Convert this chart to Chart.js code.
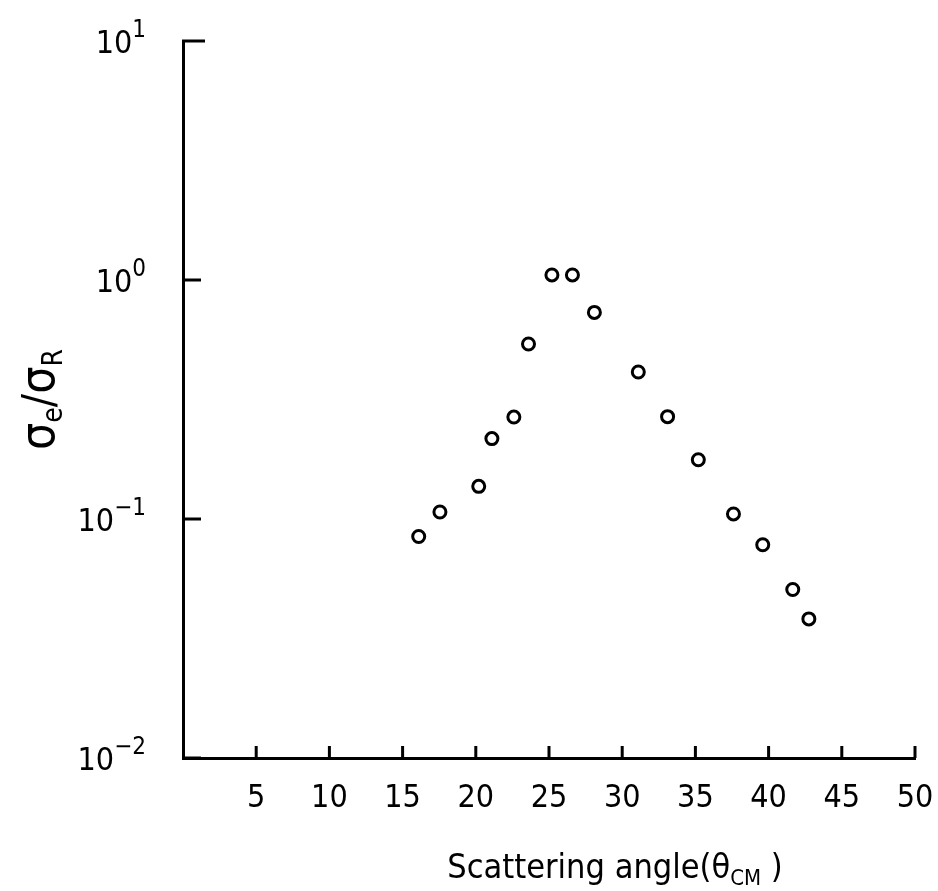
<!DOCTYPE html>
<html>
<head>
<meta charset="utf-8">
<script src="https://cdn.jsdelivr.net/npm/chart.js@4"></script>
<style>
  html, body { margin: 0; padding: 0; background: #fff; }
  #wrap { width: 938px; height: 891px; }
</style>
</head>
<body>
<div id="wrap"><canvas id="scatChart"></canvas></div>
<script>
// scattering angle (deg, CM) and sigma_e / sigma_R
const angles = [16.1, 17.55, 20.2, 21.1, 22.6, 23.6, 25.2, 26.6, 28.1, 31.1, 33.1, 35.2, 37.6, 39.6, 41.65, 42.75];
const ratios = [0.0845, 0.107, 0.137, 0.217, 0.267, 0.54, 1.05, 1.05, 0.732, 0.412, 0.268, 0.177, 0.105, 0.078, 0.0507, 0.0382];

const xTicks = [5, 10, 15, 20, 25, 30, 35, 40, 45, 50];
const yTicks = [0.01, 0.1, 1, 10];
const yExponents = ["\u22122", "\u22121", "0", "1"];

const FONT = "'DejaVu Sans Condensed', 'Liberation Sans Narrow', sans-serif";

const points = angles.map((a, i) => ({ x: a, y: ratios[i] }));

// inward ticks, power-of-ten labels and axis titles
const decor = {
    id: "decor",
    afterDraw(chart) {
        const c = chart.ctx;
        const xs = chart.scales.x;
        const ys = chart.scales.y;
        const area = chart.chartArea;

        c.save();
        c.strokeStyle = "#000";
        c.fillStyle = "#000";
        c.lineWidth = 3;

        xTicks.forEach(v => {
            const px = xs.getPixelForValue(v);
            c.beginPath();
            c.moveTo(px, area.bottom);
            c.lineTo(px, area.bottom - 12);
            c.stroke();
        });

        yTicks.forEach((v, i) => {
            const py = ys.getPixelForValue(v);
            const len = v === 10 ? 22 : 18;
            c.beginPath();
            c.moveTo(area.left - 1, py);
            c.lineTo(area.left + len, py);
            c.stroke();

            // 10^n label
            c.textBaseline = "alphabetic";
            c.textAlign = "left";
            c.font = "24px " + FONT;
            const we = c.measureText(yExponents[i]).width;
            c.font = "32px " + FONT;
            const wb = c.measureText("10").width;
            const right = 146;
            c.fillText("10", right - we - wb, py + 12);
            c.font = "24px " + FONT;
            c.fillText(yExponents[i], right - we, py - 4);
        });

        // x title: Scattering angle(θ_CM )
        c.textBaseline = "alphabetic";
        c.textAlign = "left";
        const big = "34px " + FONT;
        const small = "22px " + FONT;
        const p1 = "Scattering angle(\u03B8";
        const p2 = "CM";
        const p3 = " )";
        c.font = big;
        const w1 = c.measureText(p1).width;
        const w3 = c.measureText(p3).width;
        c.font = small;
        const w2 = c.measureText(p2).width;
        const x0 = 615 - (w1 + w2 + w3) / 2;
        const yb = 878;
        c.font = big;
        c.fillText(p1, x0, yb);
        c.font = small;
        c.fillText(p2, x0 + w1, yb + 7);
        c.font = big;
        c.fillText(p3, x0 + w1 + w2, yb);

        // y title: σe/σR
        c.translate(40, (area.top + area.bottom) / 2);
        c.rotate(-Math.PI / 2);
        const parts = [
            ["\u03C3", "48px " + FONT, 0],
            ["e", "28px " + FONT, 8],
            ["/", "44px " + FONT, 0],
            ["\u03C3", "48px " + FONT, 0],
            ["R", "28px " + FONT, 8]
        ];
        let total = 0;
        parts.forEach(p => { c.font = p[1]; total += c.measureText(p[0]).width; });
        let xx = -total / 2;
        parts.forEach(p => {
            c.font = p[1];
            c.fillText(p[0], xx, 14 + p[2]);
            xx += c.measureText(p[0]).width;
        });

        c.restore();
    }
};

new Chart(document.getElementById("scatChart"), {
    type: "scatter",
    data: {
        datasets: [{
            label: "\u03C3e/\u03C3R",
            data: points,
            pointRadius: 6,
            pointBorderWidth: 3,
            pointBorderColor: "#000",
            pointBackgroundColor: "#fff"
        }]
    },
    options: {
        responsive: true,
        maintainAspectRatio: false,
        animation: false,
        layout: {
            padding: { top: 41, right: 23, bottom: 0, left: 0 }
        },
        plugins: {
            legend: { display: false },
            tooltip: { enabled: false }
        },
        scales: {
            x: {
                type: "linear",
                min: 0,
                max: 50,
                afterBuildTicks(scale) {
                    scale.ticks = [0].concat(xTicks).map(v => ({ value: v }));
                },
                afterFit(scale) {
                    scale.height = 133;
                    scale.paddingLeft = 0;
                    scale.paddingRight = 0;
                },
                grid: { display: false, drawTicks: false },
                border: { display: true, color: "#000", width: 3 },
                ticks: {
                    color: "#000",
                    padding: 21,
                    maxRotation: 0,
                    autoSkip: false,
                    font: { family: FONT, size: 32 },
                    callback: v => (v === 0 ? "" : String(v))
                }
            },
            y: {
                type: "logarithmic",
                min: 0.01,
                max: 10,
                afterBuildTicks(scale) {
                    scale.ticks = yTicks.map(v => ({ value: v }));
                },
                afterFit(scale) {
                    scale.width = 183;
                    scale.paddingTop = 0;
                    scale.paddingBottom = 0;
                },
                grid: { display: false, drawTicks: false },
                border: { display: true, color: "#000", width: 3 },
                ticks: {
                    display: false
                }
            }
        }
    },
    plugins: [decor]
});
</script>
</body>
</html>
